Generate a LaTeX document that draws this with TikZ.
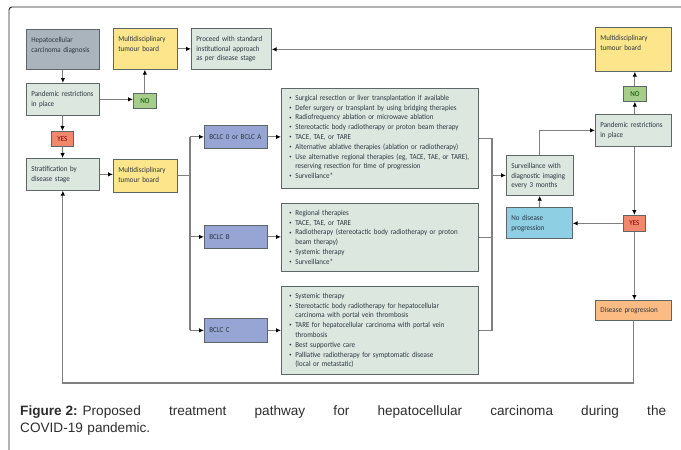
\documentclass[tikz,border=0pt]{standalone}
\usepackage{fontspec}
\setmainfont{Carlito}[FakeStretch=0.92]
\newfontfamily\capfont{Liberation Sans}
\usepackage{xcolor}
\usetikzlibrary{positioning,calc,arrows.meta}
\definecolor{hccgray}{RGB}{170,180,188}
\definecolor{palegreen}{RGB}{219,231,223}
\definecolor{boardyel}{RGB}{253,229,140}
\definecolor{nogreen}{RGB}{166,206,138}
\definecolor{yesred}{RGB}{241,136,108}
\definecolor{bclcblue}{RGB}{150,165,211}
\definecolor{skyblue}{RGB}{143,207,228}
\definecolor{progorange}{RGB}{251,187,130}
\definecolor{edgegray}{RGB}{95,102,104}
\definecolor{linegray}{RGB}{128,128,128}
\definecolor{boxtext}{RGB}{45,55,66}
\definecolor{capgray}{RGB}{45,45,45}
\def\bx{\fontsize{7.6}{9.8}\selectfont\hyphenpenalty=10000\exhyphenpenalty=10000}
\newcommand{\itm}[1]{\hangindent=6pt\hangafter=1\noindent\makebox[6pt][l]{\raisebox{.8pt}{\fontsize{5}{5}\selectfont\textbullet}}#1\par}
\tikzset{cell/.style={draw=edgegray,line width=.7pt,anchor=north west,align=left,inner xsep=5pt,inner ysep=6pt,text height=7pt,font=\bx,text=boxtext}}
\tikzset{cellc/.style={draw=edgegray,line width=.7pt,anchor=north west,align=left,inner xsep=5pt,inner ysep=0pt,font=\bx,text=boxtext}}
\tikzset{listbox/.style={cell,fill=palegreen,inner xsep=8pt,inner ysep=5pt,text width=181pt}}
\tikzset{flag/.style={draw=edgegray,line width=.7pt,anchor=north west,inner sep=0pt,font=\bx}}
\tikzset{>={Latex[length=5pt,width=4.5pt,color=black]}}
\tikzset{conn/.style={->,draw=linegray,line width=1.1pt}}

\begin{document}
\begin{tikzpicture}[x=1pt,y=-1pt]
	\useasboundingbox (0,0) rectangle (681,450);
	\draw[black!85,line width=.9pt,rounded corners=3pt] (9,453) -- (9,7) -- (684,7);

	% left column
	\node[cell,fill=hccgray,text width=63pt,text depth=21pt] (hcc) at (26,29) {Hepatocellular\\carcinoma diagnosis};
	\node[cell,fill=palegreen,text width=63pt,text depth=13pt] (pan) at (26,83) {Pandemic restrictions\\in place};
	\node[flag,fill=nogreen,text=green!30!black,minimum width=23pt,minimum height=15pt] (no) at (133,93) {NO};
	\node[flag,fill=yesred,text=red!50!black,minimum width=22pt,minimum height=15pt] (yes) at (51,131) {YES};
	\node[cell,fill=palegreen,text width=63pt,text depth=13pt] (strat) at (26,158) {Stratification by\\disease stage};
	\node[cell,fill=boardyel,text width=54pt,text depth=22pt] (mtb) at (113,28) {Multidisciplinary\\tumour board};
	\node[cell,fill=boardyel,text width=54pt,text depth=14pt] (mtbs) at (113,159) {Multidisciplinary\\tumour board};
	\node[cell,fill=palegreen,text width=70pt,text depth=22pt] (std) at (191,28) {Proceed with standard\\institutional approach\\as per disease stage};

	% stages
	\node[cellc,fill=bclcblue,text width=53pt,minimum height=23pt] (bclca) at (204,125) {BCLC 0 or BCLC A};
	\node[cellc,fill=bclcblue,text width=53pt,minimum height=23pt] (bclcb) at (204,225) {BCLC B};
	\node[cellc,fill=bclcblue,text width=53pt,minimum height=24pt] (bclcc) at (204,318) {BCLC C};

	\node[listbox,text depth=83pt] (lista) at (281,88) {%
		\itm{Surgical resection or liver transplantation if available}
		\itm{Defer surgery or transplant by using bridging therapies}
		\itm{Radiofrequency ablation or microwave ablation}
		\itm{Stereotactic body radiotherapy or proton beam therapy}
		\itm{TACE, TAE, or TARE}
		\itm{Alternative ablative therapies (ablation or radiotherapy)}
		\itm{Use alternative regional therapies (eg, TACE, TAE, or TARE),\newline reserving resection for time of progression}
		\itm{Surveillance*}};
	\node[listbox,text depth=51pt] (listb) at (281,203) {%
		\itm{Regional therapies}
		\itm{TACE, TAE, or TARE}
		\itm{Radiotherapy (stereotactic body radiotherapy or proton\newline beam therapy)}
		\itm{Systemic therapy}
		\itm{Surveillance*}};
	\node[listbox,text depth=71pt] (listc) at (281,286) {%
		\itm{Systemic therapy}
		\itm{Stereotactic body radiotherapy for hepatocellular\newline carcinoma with portal vein thrombosis}
		\itm{TARE for hepatocellular carcinoma with portal vein\newline thrombosis}
		\itm{Best supportive care}
		\itm{Palliative radiotherapy for symptomatic disease\newline (local or metastatic)}};

	% right column
	\node[cell,fill=boardyel,text width=66pt,text depth=25pt] (mtbr) at (595,27) {Multidisciplinary\\tumour board};
	\node[flag,fill=nogreen,text=green!30!black,minimum width=23pt,minimum height=15pt] (nor) at (623,86) {NO};
	\node[cell,fill=palegreen,text width=66pt,text depth=13pt] (panr) at (595,114) {Pandemic restrictions\\in place};
	\node[cell,fill=palegreen,text width=57pt,text depth=21pt] (surv) at (506,155) {Surveillance with\\diagnostic imaging\\every 3 months};
	\node[cell,fill=skyblue,text width=56pt,text depth=12pt] (nodis) at (506,207) {No disease\\progression};
	\node[flag,fill=yesred,text=red!50!black,minimum width=22pt,minimum height=16pt] (yesr) at (623,215) {YES};
	\node[cellc,fill=progorange,text width=66pt,minimum height=20pt] (prog) at (595,300) {Disease progression};

	\coordinate (lbus) at (190,0);
	\coordinate (rbus) at (492,0);
	\coordinate (bot) at (0,383);

	\draw[conn] (hcc) -- (pan);
	\draw[conn] (pan.east) -- (pan.east -| no.west);
	\draw[conn] (no) -- (no |- mtb.south);
	\draw[conn] (mtb.east) -- (mtb.east -| std.west);
	\draw[conn] (mtbr.west) -- (mtbr.west -| std.east);
	\draw[conn] (pan) -- (yes);
	\draw[conn] (yes) -- (strat);
	\draw[conn] (strat.east) -- (strat.east -| mtbs.west);
	\draw[draw=linegray,line width=1.1pt] (mtbs.east) -- (lbus |- mtbs.east);
	\draw[draw=linegray,line width=1.1pt] (lbus |- bclca.west) -- (lbus |- bclcc.west);
	\foreach \s in {bclca,bclcb,bclcc} {
		\draw[conn] (lbus |- \s.west) -- (\s.west);
	}
	\draw[conn] (bclca.east) -- (bclca.east -| lista.west);
	\draw[conn] (bclcb.east) -- (bclcb.east -| listb.west);
	\draw[conn] (bclcc.east) -- (bclcc.east -| listc.west);

	\draw[draw=linegray,line width=1.1pt] (lista.east) -- (rbus |- lista.east) -- (rbus |- listc.east) -- (listc.east);
	\draw[draw=linegray,line width=1.1pt] (listb.east) -- (rbus |- listb.east);
	\draw[conn] (rbus |- surv.west) -- (surv.west);
	\draw[conn] (surv.north) |- (panr.west);
	\draw[conn] (panr.north -| nor) -- (nor.south);
	\draw[conn] (nor.north) -- (nor.north |- mtbr.south);
	\draw[conn] (panr.south -| yesr) -- (yesr.north);
	\draw[conn] (yesr.west) -- (yesr.west -| nodis.east);
	\draw[conn] (nodis.north) -- (surv.south);
	\draw[conn] (yesr.south) -- (yesr.south |- prog.north);
	\draw[conn] (prog.south) -- (prog.south |- bot) -| (strat.south);

	\node[anchor=base west,inner sep=0pt,text width=646pt,align=left,text=capgray,font=\capfont\fontsize{13.6}{17}\selectfont] (cap) at (20,415)
		{\makebox[646pt][s]{\textbf{Figure\hspace{3.8pt}2:}\hspace{5pt}\spaceskip=.28em plus 1fil\relax Proposed treatment pathway for hepatocellular carcinoma during the}\\COVID-19 pandemic.};
\end{tikzpicture}
\end{document}
